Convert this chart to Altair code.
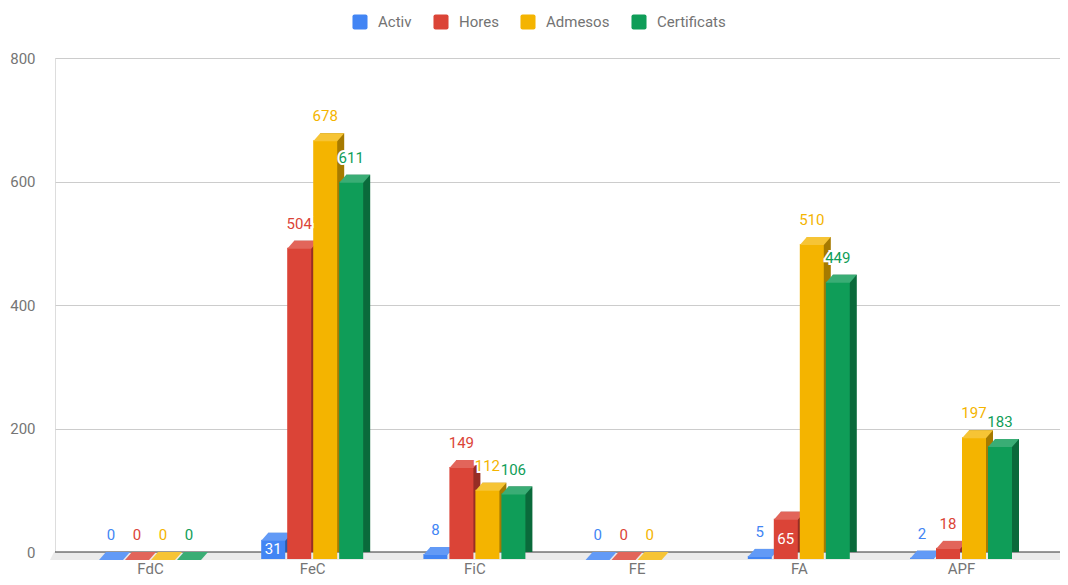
import altair as alt
import pandas as pd

categories = ["FdC", "FeC", "FiC", "FE", "FA", "APF"]
series = ["Activ", "Hores", "Admesos", "Certificats"]
activ = [0, 31, 8, 0, 5, 2]
hores = [0, 504, 149, 0, 65, 18]
admesos = [0, 678, 112, 0, 510, 197]
certificats = [0, 611, 106, None, 449, 183]
y_ticks = [0, 200, 400, 600, 800]

colors = ["#4285F4", "#DB4437", "#F4B400", "#0F9D58"]
side_colors = ["#2b5aa8", "#962e25", "#a67a00", "#0a6a3b"]
top_colors = ["#629af6", "#e2655a", "#f6c435", "#3aad75"]
inside_labels = [("FeC", "Activ"), ("FA", "Hores")]

rows = []
for si, (name, vals) in enumerate(zip(series, [activ, hores, admesos, certificats])):
    for ci, (cat, v) in enumerate(zip(categories, vals)):
        if v is None:
            continue
        rows.append(dict(cat=cat, ci=ci, series=name, si=si, value=v,
                         inside=(cat, name) in inside_labels))
df = pd.DataFrame(rows)

W, H = 1005, 494
STEP = 162.2
DEPTH = 7
FONT = "Roboto"

x_scale = alt.Scale(domain=[-95 / STEP, -95 / STEP + W / STEP], nice=False, zero=False)
y_scale = alt.Scale(domain=[0, 800], nice=False)

label_expr = "[" + ",".join(f"'{c}'" for c in categories) + "][datum.value]"
x_axis = alt.Axis(values=list(range(len(categories))), labelExpr=label_expr, title=None,
                  grid=False, domain=False, ticks=False, labelPadding=21,
                  labelBaseline="alphabetic", zindex=1,
                  labelFont=FONT, labelFontSize=15, labelColor="#757575")
y_axis = alt.Axis(values=y_ticks, title=None, grid=True, gridColor="#cccccc",
                  domain=False, ticks=False, labelPadding=20,
                  labelFont=FONT, labelFontSize=15, labelColor="#757575")

base = alt.Chart(df).transform_calculate(
    xc=f"datum.ci + (datum.si - 1.5) * {26 / STEP}"
).transform_calculate(
    x0=f"datum.xc - {12 / STEP}",
    x1=f"datum.xc + {12 / STEP}",
    half="datum.value / 2",
)

# floor and baseline
floor = alt.Chart(pd.DataFrame({"v": [0]})).mark_rect(
    color="#ebebeb", y2Offset=8
).encode(
    x=alt.value(-1), x2=alt.value(W),
    y=alt.Y("v:Q", scale=y_scale, axis=y_axis), y2="v:Q",
)
floor_edge = alt.Chart(pd.DataFrame({"v": [0]})).mark_point(
    shape="M 0 -1 L 1 -1 L 1 1 L -1 1 Z", size=64, filled=True, opacity=1,
    strokeWidth=0, color="#ebebeb", yOffset=4, xOffset=-1
).encode(
    x=alt.value(0),
    y=alt.Y("v:Q", scale=y_scale, axis=y_axis),
)
zero_line = alt.Chart(pd.DataFrame({"v": [0]})).mark_rule(
    color="#333333", strokeWidth=1
).encode(
    x=alt.value(0), x2=alt.value(W),
    y=alt.Y("v:Q", scale=y_scale, axis=y_axis),
)

top_path = "M -0.969 0.25 L 0.531 0.25 L 0.969 -0.25 L -0.531 -0.25 Z"
legend_path = ("M -0.69 -0.94 L 0.69 -0.94 Q 0.94 -0.94 0.94 -0.69 L 0.94 0.69 "
               "Q 0.94 0.94 0.69 0.94 L -0.69 0.94 Q -0.94 0.94 -0.94 0.69 "
               "L -0.94 -0.69 Q -0.94 -0.94 -0.69 -0.94 Z")

layers = [floor, floor_edge, zero_line]
for si, name in enumerate(series):
    sub = base.transform_filter(f"datum.series == '{name}'")
    back = sub.mark_bar(color=side_colors[si], xOffset=DEPTH, x2Offset=DEPTH).encode(
        x=alt.X("x0:Q", scale=x_scale, axis=x_axis), x2="x1:Q",
        y=alt.Y("value:Q", scale=y_scale, axis=y_axis), y2=alt.datum(0),
    )
    front = sub.mark_bar(yOffset=DEPTH, y2Offset=DEPTH, opacity=1).encode(
        x=alt.X("x0:Q", scale=x_scale, axis=x_axis), x2="x1:Q",
        y=alt.Y("value:Q", scale=y_scale, axis=y_axis), y2=alt.datum(0),
        color=alt.Color("series:N", scale=alt.Scale(domain=series, range=colors),
                        legend=alt.Legend(orient="none", legendX=297, legendY=-44,
                                          direction="horizontal", title=None,
                                          symbolType=legend_path, symbolSize=256,
                                          symbolStrokeWidth=0, symbolOpacity=1,
                                          labelFont=FONT, labelFontSize=15,
                                          labelColor="#737373", labelOffset=10,
                                          columnPadding=21)),
    )
    top = sub.mark_point(shape=top_path, size=1024, filled=True, opacity=1,
                         strokeWidth=0, color=top_colors[si],
                         xOffset=DEPTH / 2, yOffset=4).encode(
        x=alt.X("xc:Q", scale=x_scale, axis=x_axis),
        y=alt.Y("value:Q", scale=y_scale, axis=y_axis),
    )
    layers += [back, front, top]

for si, name in enumerate(series):
    sub = base.transform_filter(f"datum.series == '{name}' && !datum.inside")
    halo = sub.mark_text(font=FONT, fontSize=15, dy=-17, baseline="middle",
                         stroke="white", strokeWidth=4, color="white").encode(
        x=alt.X("xc:Q", scale=x_scale, axis=x_axis),
        y=alt.Y("value:Q", scale=y_scale, axis=y_axis),
        text="value:Q",
    )
    txt = sub.mark_text(font=FONT, fontSize=15, dy=-17, baseline="middle",
                        color=colors[si]).encode(
        x=alt.X("xc:Q", scale=x_scale, axis=x_axis),
        y=alt.Y("value:Q", scale=y_scale, axis=y_axis),
        text="value:Q",
    )
    layers += [halo, txt]

inside_txt = base.transform_filter("datum.inside").mark_text(
    font=FONT, fontSize=15, dy=DEPTH, baseline="middle", color="white"
).encode(
    x=alt.X("xc:Q", scale=x_scale, axis=x_axis),
    y=alt.Y("half:Q", scale=y_scale, axis=y_axis),
    text="value:Q",
)
layers.append(inside_txt)

chart = alt.layer(*layers).properties(
    width=W, height=H,
    autosize=alt.AutoSizeParams(type="none"),
    padding={"left": 47, "top": 50, "right": 0, "bottom": 25},
).configure_view(strokeWidth=0).configure(background="white")

chart.save("out.html", embed_options={"renderer": "svg", "actions": False})
